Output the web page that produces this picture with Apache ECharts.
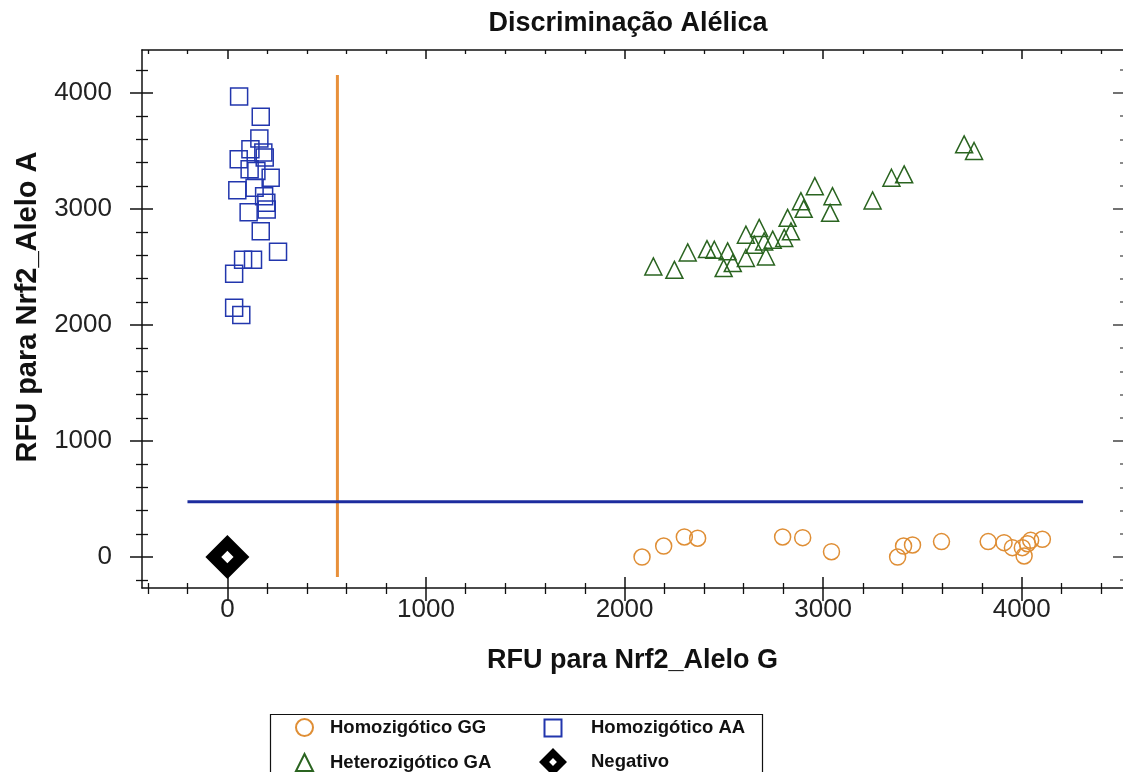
<!DOCTYPE html>
<html><head><meta charset="utf-8">
<script src="https://cdn.jsdelivr.net/npm/echarts@6/dist/echarts.min.js"></script>
<style>html,body{margin:0;padding:0;background:#fff}#c{width:1123px;height:772px}</style>
</head><body><div id="c"></div>
<script>
// ---------- texts ----------
const chartTitle = 'Discriminação Alélica';
const xName = 'RFU para Nrf2_Alelo G';
const yName = 'RFU para Nrf2_Alelo A';
const seriesNames = ['Homozigótico GG', 'Homozigótico AA', 'Heterozigótico GA', 'Negativo'];

// ---------- axes ----------
const xRange = [-430, 4510];
const yRange = [-267, 4371];
const xMajorTicks = [0, 1000, 2000, 3000, 4000];
const xMinorTicks = [-400, -200, 200, 400, 600, 800, 1200, 1400, 1600, 1800, 2200, 2400, 2600, 2800, 3200, 3400, 3600, 3800, 4200, 4400];
const yMajorTicks = [0, 1000, 2000, 3000, 4000];
const yMinorTicks = [-200, 200, 400, 600, 800, 1200, 1400, 1600, 1800, 2200, 2400, 2600, 2800, 3200, 3400, 3600, 3800, 4200];

// ---------- threshold lines ----------
const thresholdG = 554;            // vertical line at RFU G
const thresholdGSpan = [-172, 4155];
const thresholdA = 477;            // horizontal line at RFU A
const thresholdASpan = [-201, 4309];

// ---------- data ----------
const ggX = [2088, 2197, 2301, 2368, 2796, 2897, 3042, 3375, 3405, 3450, 3596, 3831, 3911, 3953, 4012, 4003, 4029, 4045, 4104];
const ggY = [0, 95, 173, 162, 173, 167, 46, 0, 95, 104, 133, 133, 124, 81, 9, 81, 115, 144, 153];

const aaX = [59, 168, 161, 116, 181, 188, 57, 112, 146, 218, 50, 137, 185, 196, 198, 107, 168, 255, 79, 129, 34, 34, 70];
const aaY = [3971, 3795, 3608, 3515, 3487, 3444, 3429, 3342, 3328, 3270, 3163, 3183, 3111, 3054, 2996, 2972, 2808, 2632, 2563, 2563, 2442, 2150, 2087];

const gaX = [2145, 2251, 2318, 2415, 2452, 2519, 2499, 2545, 2611, 2611, 2678, 2653, 2703, 2746, 2712, 2804, 2838, 2821, 2888, 2902, 2958, 3047, 3035, 3249, 3344, 3408, 3710, 3760];
const gaY = [2505, 2476, 2626, 2655, 2649, 2635, 2491, 2534, 2578, 2779, 2837, 2693, 2721, 2736, 2591, 2751, 2808, 2924, 3068, 3002, 3197, 3111, 2967, 3074, 3270, 3299, 3558, 3500];

const negX = [0];
const negY = [0];

const zip = (xs, ys) => xs.map((v, i) => [v, ys[i]]);

const diamondHole = 'path://M0,-10L10,0L0,10L-10,0Z M0,-2.8L-2.8,0L0,2.8L2.8,0Z';
const squareSmall = 'path://M-14,-14 M14,14 M-8.5,-8.5L8.5,-8.5L8.5,8.5L-8.5,8.5Z';

const tickFont = 'Liberation Sans, Arial, sans-serif';
const AX = '#111';
const plain = v => String(v);

function xAxisPart(opts) {
  return Object.assign({
    type: 'value', min: xRange[0], max: xRange[1], gridIndex: 0,
    splitLine: { show: false },
    axisLine: { show: false },
    axisLabel: { show: false },
    axisTick: { show: false }
  }, opts);
}
function yAxisPart(opts) {
  return Object.assign({
    type: 'value', min: yRange[0], max: yRange[1], gridIndex: 0,
    splitLine: { show: false },
    axisLine: { show: false },
    axisLabel: { show: false },
    axisTick: { show: false }
  }, opts);
}

const chart = echarts.init(document.getElementById('c'), null, { renderer: 'canvas' });
const option = {
  animation: false,
  backgroundColor: '#fff',
  title: {
    text: chartTitle, left: 623, top: 5, textAlign: 'center',
    textStyle: { fontFamily: tickFont, fontSize: 27, fontWeight: 'bold', color: '#111' }
  },
  grid: { left: 142, top: 50, right: 0, bottom: 184, containLabel: false, outerBoundsMode: 'none' },
  xAxis: [
    xAxisPart({
      position: 'bottom',
      name: xName, nameLocation: 'middle', nameGap: 59, nameMoveOverlap: false,
      nameTextStyle: { fontFamily: tickFont, fontSize: 27, fontWeight: 'bold', color: '#111' },
      axisLine: { show: true, onZero: false, lineStyle: { color: AX, width: 1.5 } },
      axisTick: { show: true, length: 13, inside: false, customValues: xMajorTicks, lineStyle: { color: AX, width: 1.5 } },
      axisLabel: { show: true, customValues: xMajorTicks, formatter: plain, margin: 9, fontFamily: tickFont, fontSize: 26, color: '#222' }
    }),
    xAxisPart({ position: 'bottom', axisLine: { show: false, onZero: false },
      axisTick: { show: true, length: 11, inside: true, customValues: xMajorTicks, lineStyle: { color: AX, width: 1.5 } } }),
    xAxisPart({ position: 'bottom', axisLine: { show: false, onZero: false },
      axisTick: { show: true, length: 6, inside: false, customValues: xMinorTicks, lineStyle: { color: AX, width: 1.3 } } }),
    xAxisPart({ position: 'bottom', axisLine: { show: false, onZero: false },
      axisTick: { show: true, length: 5, inside: true, customValues: xMinorTicks, lineStyle: { color: AX, width: 1.3 } } }),
    xAxisPart({ position: 'top',
      axisLine: { show: true, onZero: false, lineStyle: { color: AX, width: 1.5 } },
      axisTick: { show: true, length: 9, inside: true, customValues: xMajorTicks, lineStyle: { color: AX, width: 1.5 } } }),
    xAxisPart({ position: 'top', axisLine: { show: false, onZero: false },
      axisTick: { show: true, length: 4, inside: true, customValues: xMinorTicks, lineStyle: { color: AX, width: 1.3 } } })
  ],
  yAxis: [
    yAxisPart({
      position: 'left',
      name: yName, nameLocation: 'middle', nameGap: 100, nameMoveOverlap: false,
      nameTextStyle: { fontFamily: tickFont, fontSize: 29, fontWeight: 'bold', color: '#111', padding: [0, 0, 0, 24] },
      axisLine: { show: true, onZero: false, lineStyle: { color: AX, width: 1.5 } },
      axisTick: { show: true, length: 12, inside: false, customValues: yMajorTicks, lineStyle: { color: AX, width: 1.5 } },
      axisLabel: { show: true, customValues: yMajorTicks, formatter: plain, margin: 30, fontFamily: tickFont, fontSize: 26, color: '#222' }
    }),
    yAxisPart({ position: 'left', axisLine: { show: false, onZero: false },
      axisTick: { show: true, length: 11, inside: true, customValues: yMajorTicks, lineStyle: { color: AX, width: 1.5 } } }),
    yAxisPart({ position: 'left', axisLine: { show: false, onZero: false },
      axisTick: { show: true, length: 6, inside: false, customValues: yMinorTicks, lineStyle: { color: AX, width: 1.3 } } }),
    yAxisPart({ position: 'left', axisLine: { show: false, onZero: false },
      axisTick: { show: true, length: 6, inside: true, customValues: yMinorTicks, lineStyle: { color: AX, width: 1.3 } } }),
    yAxisPart({ position: 'right', axisLine: { show: false, onZero: false },
      axisTick: { show: true, length: 10, inside: true, customValues: yMajorTicks, lineStyle: { color: '#444', width: 1.5 } } }),
    yAxisPart({ position: 'right', axisLine: { show: false, onZero: false },
      axisTick: { show: true, length: 3, inside: true, customValues: yMinorTicks, lineStyle: { color: '#666', width: 1.5 } } })
  ],
  legend: [
    {
      data: [seriesNames[0], seriesNames[2]],
      orient: 'vertical', left: 295, top: 718, height: 80, padding: 0,
      itemWidth: 17, itemHeight: 17, itemGap: 16, selectedMode: false,
      textStyle: { fontFamily: tickFont, fontSize: 18.5, fontWeight: 'bold', color: '#111', padding: [0, 0, 0, 12] }
    },
    {
      data: [{ name: seriesNames[1], icon: squareSmall }, seriesNames[3]],
      orient: 'vertical', left: 538, top: 713, height: 80, padding: 0,
      itemWidth: 28, itemHeight: 28, itemGap: 5, selectedMode: false,
      textStyle: { fontFamily: tickFont, fontSize: 18.5, fontWeight: 'bold', color: '#111', padding: [0, 0, 0, 19] }
    }
  ],
  graphic: [
    { type: 'rect', left: 268, top: 712, shape: { width: 492, height: 80 },
      style: { fill: 'none', stroke: '#111', lineWidth: 1.2 }, silent: true, z: 0 }
  ],
  series: [
    {
      type: 'line', name: 'thrG', xAxisIndex: 0, yAxisIndex: 0, silent: true, symbol: 'none',
      data: [[thresholdG, thresholdGSpan[0]], [thresholdG, thresholdGSpan[1]]],
      lineStyle: { color: '#e8903a', width: 3 }, z: 1
    },
    {
      type: 'line', name: 'thrA', xAxisIndex: 0, yAxisIndex: 0, silent: true, symbol: 'none',
      data: [[thresholdASpan[0], thresholdA], [thresholdASpan[1], thresholdA]],
      lineStyle: { color: '#1c2c9e', width: 3 }, z: 1
    },
    {
      type: 'scatter', name: seriesNames[0], xAxisIndex: 0, yAxisIndex: 0,
      data: zip(ggX, ggY), symbol: 'circle', symbolSize: 16,
      itemStyle: { color: 'rgba(0,0,0,0)', borderColor: '#df8e35', borderWidth: 1.5, opacity: 1 }, z: 3
    },
    {
      type: 'scatter', name: seriesNames[1], xAxisIndex: 0, yAxisIndex: 0,
      data: zip(aaX, aaY), symbol: 'rect', symbolSize: 17,
      itemStyle: { color: 'rgba(0,0,0,0)', borderColor: '#2236ad', borderWidth: 1.5, opacity: 1 }, z: 3
    },
    {
      type: 'scatter', name: seriesNames[2], xAxisIndex: 0, yAxisIndex: 0,
      data: zip(gaX, gaY), symbol: 'triangle', symbolSize: 17,
      itemStyle: { color: 'rgba(0,0,0,0)', borderColor: '#2a6420', borderWidth: 1.5, opacity: 1 }, z: 3
    },
    {
      type: 'scatter', name: seriesNames[3], xAxisIndex: 0, yAxisIndex: 0,
      data: zip(negX, negY), symbol: diamondHole, symbolSize: 44,
      itemStyle: { color: '#000', opacity: 1 }, z: 4
    }
  ]
};
chart.setOption(option);
</script>
</body></html>
